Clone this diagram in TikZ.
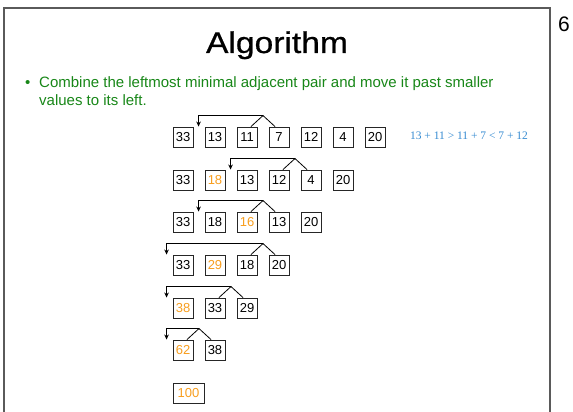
\documentclass[tikz,border=0pt]{standalone}
\usepackage{fontspec}
\usepackage{graphicx}
\setmainfont{Liberation Sans}
\newfontfamily\formulafont{Liberation Serif}
\newfontfamily\titlefont{Liberation Sans}[FakeBold=0.6]
\usetikzlibrary{arrows.meta,calc}

\definecolor{slidegreen}{RGB}{24,135,24}
\definecolor{mergeorange}{RGB}{248,158,30}
\definecolor{formulablue}{RGB}{55,140,210}
\definecolor{framegray}{RGB}{90,90,90}

\begin{document}
\begin{tikzpicture}[x=1pt,y=1pt,
  cell/.style={draw=black!85,line width=0.9pt,minimum width=20pt,minimum height=20pt,
    inner sep=0pt,font=\fontsize{13}{15}\selectfont},
  merged/.style={cell,text=mergeorange},
  link/.style={draw=black,line width=0.8pt},
  move/.style={link,-{Stealth[length=5pt,width=4.5pt]}},
  bullettext/.style={anchor=base west,text=slidegreen,font=\fontsize{15}{18}\selectfont,inner sep=0pt}]
\useasboundingbox (0,0) rectangle (573,-412);
\fill[white] (0,0) rectangle (573,-412);

% slide frame
\draw[framegray,line width=1.4pt] (4,-412) -- (4,-8) -- (550,-8) -- (550,-412);
\node[anchor=base,font=\fontsize{21}{24}\selectfont] (pagenum) at (564,-32) {6};

% title and bullet
\node[anchor=base,font=\titlefont\fontsize{30}{36}\selectfont,inner sep=0pt] (title) at (277,-53) {\scalebox{1.12}[1]{Algorithm}};
\node[bullettext] (bul) at (25,-88) {\textbullet};
\node[bullettext] (desc1) at (39,-88) {Combine the leftmost minimal adjacent pair and move it past smaller};
\node[bullettext] (desc2) at (39,-106) {values to its left.};

% row 1
\node[cell] (r1a) at (183,-137) {33};
\node[cell] (r1b) at (215,-137) {13};
\node[cell] (r1c) at (247,-137) {11};
\node[cell] (r1d) at (279,-137) {7};
\node[cell] (r1e) at (311,-137) {12};
\node[cell] (r1f) at (343,-137) {4};
\node[cell] (r1g) at (375,-137) {20};
\node[anchor=center,text=formulablue,font=\formulafont\fontsize{11.5}{13}\selectfont] (cmp) at (469,-136)
  {13 + 11 > 11 + 7 < 7 + 12};

% row 2
\node[cell] (r2a) at (183,-180) {33};
\node[merged] (r2b) at (215,-180) {18};
\node[cell] (r2c) at (247,-180) {13};
\node[cell] (r2d) at (279,-180) {12};
\node[cell] (r2e) at (311,-180) {4};
\node[cell] (r2f) at (343,-180) {20};

% row 3
\node[cell] (r3a) at (183,-222) {33};
\node[cell] (r3b) at (215,-222) {18};
\node[merged] (r3c) at (247,-222) {16};
\node[cell] (r3d) at (279,-222) {13};
\node[cell] (r3e) at (311,-222) {20};

% row 4
\node[cell] (r4a) at (183,-265) {33};
\node[merged] (r4b) at (215,-265) {29};
\node[cell] (r4c) at (247,-265) {18};
\node[cell] (r4d) at (279,-265) {20};

% row 5
\node[merged] (r5a) at (183,-308) {38};
\node[cell] (r5b) at (215,-308) {33};
\node[cell] (r5c) at (247,-308) {29};

% row 6
\node[merged] (r6a) at (183,-350) {62};
\node[cell] (r6b) at (215,-350) {38};

% row 7
\node[merged,minimum width=31pt] (r7a) at (188.5,-393) {100};

% merge brackets: join a pair and carry it left
\foreach \row/\l/\r/\dest in {1/c/d/b, 2/d/e/c, 3/c/d/b, 4/c/d/a, 5/b/c/a, 6/a/b/a}{
  \coordinate (p\row) at ($(r\row\l.north)!0.5!(r\row\r.north)+(0,11)$);
  \draw[link] ([xshift=4pt]r\row\l.north) -- (p\row) -- ([xshift=-4pt]r\row\r.north);
  \draw[move] (p\row) -| ([xshift=-6pt]r\row\dest.north west);
}
\end{tikzpicture}
\end{document}
